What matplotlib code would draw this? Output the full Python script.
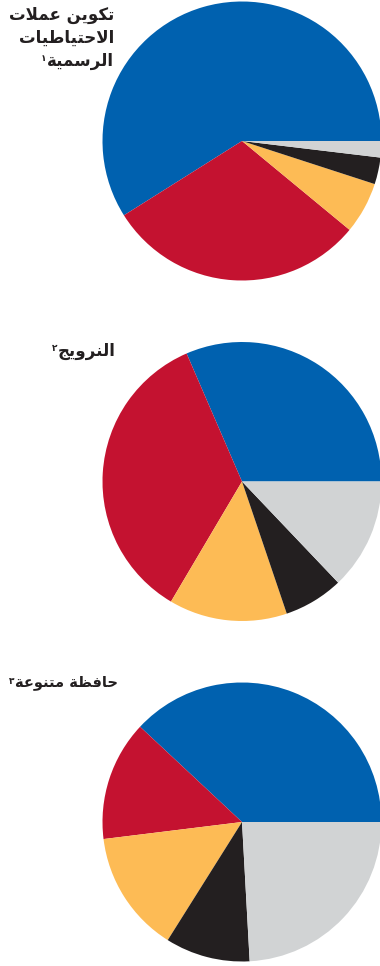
import matplotlib
matplotlib.use("Agg")
import matplotlib.pyplot as plt

# ---------------------------------------------
# three pies: currency composition of reserves
# ---------------------------------------------

colors = ["#0061AF", "#C41230", "#FDBB55", "#231F20", "#D1D3D4"]

reserves_shares = [59.0, 30.1, 6.0, 3.1, 1.9]
norway_shares = [31.5, 35.0, 13.7, 6.9, 12.9]
diversified_shares = [38.0, 13.9, 14.1, 9.8, 24.1]

titles = [
    ["تكوين عملات", "الاحتياطيات", "الرسمية"],
    ["النرويج"],
    ["حافظة متنوعة"],
]
notes = ["١", "٢", "٣"]

# ---------------------------------------------
# small arabic shaper (matplotlib has no shaping)
# ---------------------------------------------
FORMS = {
    "ا": (0xFE8D, 0xFE8E, None, None),
    "ة": (0xFE93, 0xFE94, None, None),
    "ر": (0xFEAD, 0xFEAE, None, None),
    "و": (0xFEED, 0xFEEE, None, None),
    "ت": (0xFE95, 0xFE96, 0xFE97, 0xFE98),
    "ج": (0xFE9D, 0xFE9E, 0xFE9F, 0xFEA0),
    "ح": (0xFEA1, 0xFEA2, 0xFEA3, 0xFEA4),
    "س": (0xFEB1, 0xFEB2, 0xFEB3, 0xFEB4),
    "ط": (0xFEC1, 0xFEC2, 0xFEC3, 0xFEC4),
    "ظ": (0xFEC5, 0xFEC6, 0xFEC7, 0xFEC8),
    "ع": (0xFEC9, 0xFECA, 0xFECB, 0xFECC),
    "ف": (0xFED1, 0xFED2, 0xFED3, 0xFED4),
    "ك": (0xFED9, 0xFEDA, 0xFEDB, 0xFEDC),
    "ل": (0xFEDD, 0xFEDE, 0xFEDF, 0xFEE0),
    "م": (0xFEE1, 0xFEE2, 0xFEE3, 0xFEE4),
    "ن": (0xFEE5, 0xFEE6, 0xFEE7, 0xFEE8),
    "ي": (0xFEF1, 0xFEF2, 0xFEF3, 0xFEF4),
}


def dual(c):
    return c in FORMS and FORMS[c][2] is not None


def shape(text):
    # merge lam + alef first
    chars = []
    i = 0
    while i < len(text):
        if text[i] == "ل" and i + 1 < len(text) and text[i + 1] == "ا":
            chars.append("LA")
            i += 2
        else:
            chars.append(text[i])
            i += 1
    out = []
    for i, c in enumerate(chars):
        prev = chars[i - 1] if i > 0 else None
        nxt = chars[i + 1] if i + 1 < len(chars) else None
        joins_prev = prev is not None and (dual(prev) or prev == "ل")
        if c == "LA":
            out.append(chr(0xFEFC if joins_prev else 0xFEFB))
            continue
        if c not in FORMS:
            out.append(c)
            continue
        joins_next = dual(c) and nxt is not None and (nxt in FORMS or nxt == "LA")
        iso, fin, ini, med = FORMS[c]
        if joins_prev and joins_next:
            out.append(chr(med))
        elif joins_prev:
            out.append(chr(fin))
        elif joins_next:
            out.append(chr(ini))
        else:
            out.append(chr(iso))
    return "".join(reversed(out))


# ---------------------------------------------
# figure
# ---------------------------------------------
W, H = 380, 966
fig = plt.figure(figsize=(W / 100, H / 100), dpi=100)

centers_y = [141, 481.5, 822]
radius = 139.5
cx = 242
all_shares = [reserves_shares, norway_shares, diversified_shares]

for shares, cy in zip(all_shares, centers_y):
    ax = fig.add_axes([(cx - radius) / W, (H - cy - radius) / H,
                       2 * radius / W, 2 * radius / H])
    ax.pie(shares, colors=colors, startangle=0, counterclock=True,
           radius=1, wedgeprops=dict(linewidth=0))
    ax.set_xlim(-1, 1)
    ax.set_ylim(-1, 1)
    ax.set_aspect("equal")
    ax.axis("off")

# titles, right aligned left of the pies
title_pos = [(114, [15, 38, 61], 12), (116, [351], 12), (118, [683], 10.5)]
fig.canvas.draw()
renderer = fig.canvas.get_renderer()
for lines, note, (xr, ys, fs) in zip(titles, notes, title_pos):
    last = None
    for line, y in zip(lines, ys):
        last = fig.text(xr / W, 1 - y / H, shape(line), ha="right", va="center",
                        fontsize=fs, fontweight="bold", family="DejaVu Sans",
                        color="#231F20")
    bb = last.get_window_extent(renderer=renderer)
    fig.text((bb.x0 - 1) / W, (bb.y1 - 2) / H, note, ha="right", va="top",
             fontsize=6.5, fontweight="bold", family="DejaVu Sans",
             color="#231F20")

fig.savefig("out.png", dpi=100)
